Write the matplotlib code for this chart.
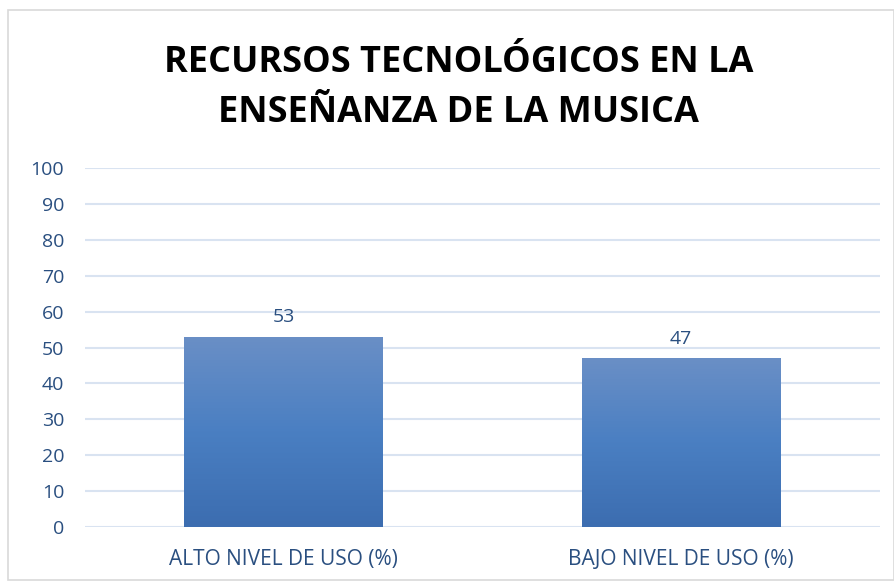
import matplotlib
matplotlib.use("Agg")
import matplotlib.pyplot as plt
import numpy as np
from matplotlib.colors import LinearSegmentedColormap
from matplotlib.patches import Rectangle

categories = ["ALTO NIVEL DE USO (%)", "BAJO NIVEL DE USO (%)"]
values = [53, 47]
yticks = list(range(0, 101, 10))
title = "RECURSOS TECNOLÓGICOS EN LA\nENSEÑANZA DE LA MUSICA"

text_color = "#2A4F80"
grid_color = "#D9E3F1"

plt.rcParams["font.family"] = ["Open Sans", "DejaVu Sans"]

fig = plt.figure(figsize=(8.95, 5.82), dpi=100)
ax = fig.add_axes([0.095, 0.0945, 0.888, 0.6165])

x = np.arange(len(categories))
bars = ax.bar(x, values, width=0.5, color="none", zorder=2)

cmap = LinearSegmentedColormap.from_list("grad", ["#3C6DB0", "#4A7FC2", "#6A8FC6"])
grad = np.linspace(0, 1, 256).reshape(-1, 1)
for b in bars:
    x0, y0 = b.get_x(), b.get_y()
    w, h = b.get_width(), b.get_height()
    im = ax.imshow(grad, cmap=cmap, aspect="auto", origin="lower",
                   extent=[x0, x0 + w, y0, y0 + h], zorder=2)
    im.set_clip_path(b)

for xi, v in zip(x, values):
    ax.text(xi, v + 3, str(v), ha="center", va="bottom", fontsize=14, color=text_color)

ax.set_xlim(-0.5, len(categories) - 0.5)
ax.set_ylim(0, 100)
ax.set_yticks(yticks)
ax.set_xticks(x)
ax.set_xticklabels(categories, fontsize=15, color=text_color)
ax.tick_params(axis="y", labelsize=14, colors=text_color, length=0, pad=15)
ax.tick_params(axis="x", length=0, pad=16)
ax.grid(axis="y", color=grid_color, linewidth=1.5, zorder=0)
ax.set_axisbelow(True)
for s in ax.spines.values():
    s.set_visible(False)

fig.text(0.512, 0.849, title, ha="center", va="center", fontsize=26,
         fontweight="bold", color="black", linespacing=1.5)

fig.patches.append(Rectangle((0.009, 0.003), 0.99, 0.98, transform=fig.transFigure,
                             fill=False, edgecolor="#D9D9D9", linewidth=1.2))

fig.savefig("out.png", dpi=100)
